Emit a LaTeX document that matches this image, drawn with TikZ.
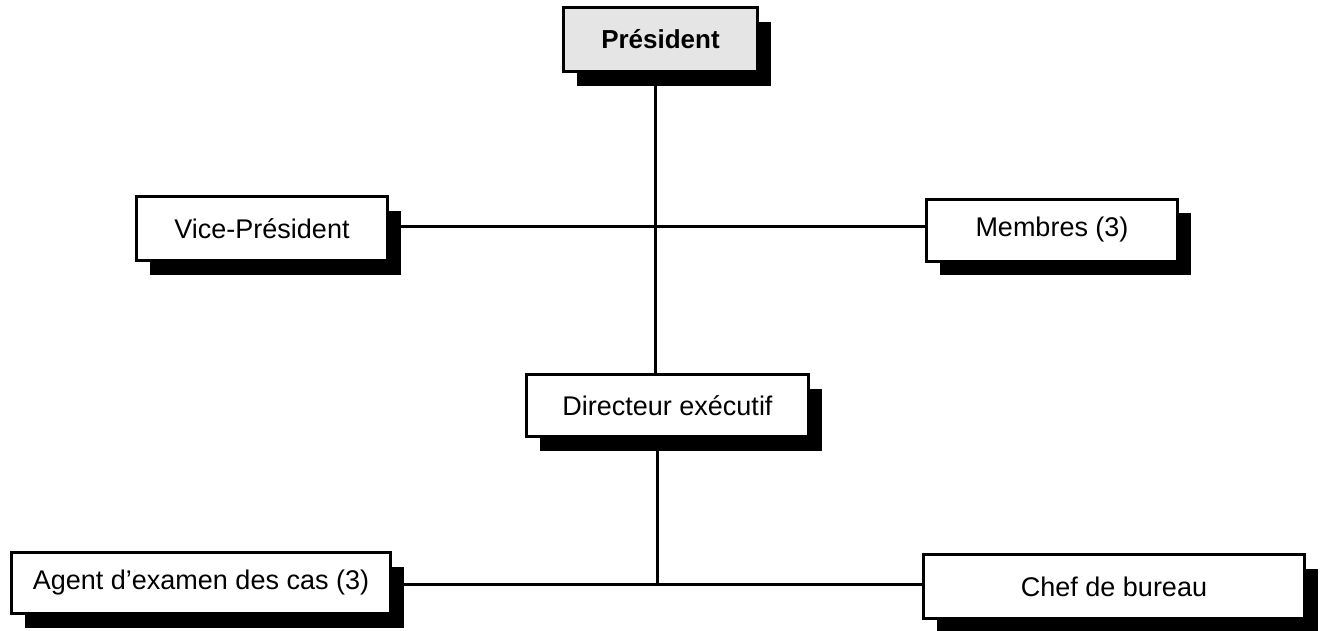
\documentclass[tikz,border=0pt]{standalone}
\usepackage{fontspec}
\setmainfont{Liberation Sans}
\usetikzlibrary{shadows,calc,backgrounds}
\begin{document}
\begin{tikzpicture}[x=1pt,y=-1pt,
  box/.style={draw=black, line width=3pt, fill=white, minimum height=62pt, inner sep=0pt,
    font=\fontsize{27}{31}\selectfont,
    drop shadow={shadow xshift=13pt, shadow yshift=-14pt, fill=black, opacity=1}},
  conn/.style={line width=3pt}]
\begin{pgfonlayer}{background}
\fill[white] (0,0) rectangle (1321,630);
\end{pgfonlayer}
\useasboundingbox (0,0) rectangle (1321,630);
\coordinate (j1) at (655,226);
\coordinate (j2) at (657,584);
% boxes
\node[box, fill={rgb,255:red,229;green,229;blue,229}, minimum width=194pt, minimum height=64pt,
  font=\fontsize{26}{30}\selectfont\bfseries] (pres) at (660.5,39.5) {Président};
\node[box, minimum width=251pt, minimum height=64pt] (vp) at (262,228.5) {Vice-Président};
\node[box, minimum width=251pt, minimum height=62pt] (mem) at (1052,230) {Membres (3)};
\node[box, minimum width=282pt, minimum height=62pt] (dir) at (667.5,405.5) {Directeur exécutif};
\node[box, minimum width=379pt, minimum height=61pt] (agent) at (201,583) {Agent d’examen des cas (3)};
\node[box, minimum width=381pt, minimum height=64pt] (chef) at (1114,586.5) {Chef de bureau};
% connectors behind the boxes
\begin{pgfonlayer}{background}
\draw[conn] (pres.south -| j1) -- (dir.north -| j1);
\draw[conn] (vp.east |- j1) -- (mem.west |- j1);
\draw[conn] (dir.south -| j2) -- (j2);
\draw[conn] (agent.east |- j2) -- (chef.west |- j2);
\end{pgfonlayer}
\end{tikzpicture}
\end{document}
